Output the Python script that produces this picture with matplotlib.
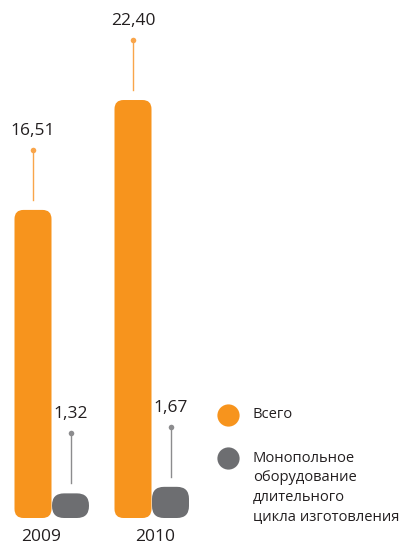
import matplotlib.pyplot as plt
from matplotlib.patches import FancyBboxPatch

plt.rcParams['font.family'] = ['Open Sans', 'DejaVu Sans']

years = ['2009', '2010']
total = [16.51, 22.40]
monopole = [1.32, 1.67]
total_labels = ['16,51', '22,40']
monopole_labels = ['1,32', '1,67']
legend_labels = ['Всего', 'Монопольное\nоборудование\nдлительного\nцикла изготовления']

orange = '#F7941D'
orange_line = '#F9A54A'
gray = '#6D6E71'
gray_line = '#8C8C8E'
text_color = '#231F20'

W, H = 399, 545
base = 518          # pixel row of the bars' base
px = 18.66          # pixels per unit of value

fig = plt.figure(figsize=(W / 100, H / 100), dpi=100)
ax = fig.add_axes([0, 0, 1, 1])
ax.set_xlim(0, W)
ax.set_ylim(-(H - base) / px, base / px)
ax.axis('off')

centers = [52, 152]
bw = 37


def rounded_bar(x, h, color, r):
    p = FancyBboxPatch((x - bw / 2, 0), bw, h,
                       boxstyle=f'round,pad=0,rounding_size={r}',
                       mutation_aspect=1 / px, fc=color, ec='none')
    ax.add_patch(p)


def leader(x, h, color, label):
    ax.plot([x, x], [h + 10 / px, h + 60 / px], color=color, lw=1.0)
    ax.plot([x], [h + 60 / px], 'o', color=color, ms=4, mec='none')
    ax.text(x, h + 79 / px, label, ha='center', va='center',
            fontsize=12.5, color=text_color)


for c, t, m, tl, ml in zip(centers, total, monopole, total_labels, monopole_labels):
    xo = c - bw / 2 - 0.5
    xg = c + bw / 2
    rounded_bar(xo, t, orange, 9)
    rounded_bar(xg, m, gray, 12)
    leader(xo, t, orange_line, tl)
    leader(xg, m, gray_line, ml)

# year labels
for x, yr in zip([41, 155], years):
    fig.text(x / W, 1 - 537 / H, yr, ha='center', va='center',
             fontsize=12.5, color=text_color)

# legend
for ypix, col, lab, va in [(415, orange, legend_labels[0], 'center'),
                           (458, gray, legend_labels[1], 'top')]:
    fig.add_artist(plt.Line2D([228 / W], [1 - ypix / H], marker='o', ms=16,
                              color=col, mec='none', transform=fig.transFigure))
    ty = ypix if va == 'center' else ypix - 7
    fig.text(253 / W, 1 - ty / H, lab, ha='left', va=va, fontsize=10.6,
             color=text_color, linespacing=1.4)

fig.savefig('out.png', dpi=100)
